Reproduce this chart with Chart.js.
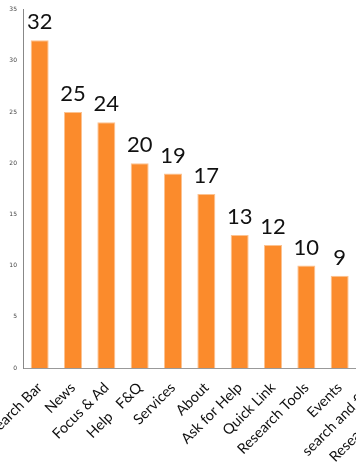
<!DOCTYPE html>
<html>
<head>
<meta charset="utf-8">
<script src="https://cdn.jsdelivr.net/npm/chart.js@4/dist/chart.umd.min.js"></script>
<style>
html,body{margin:0;padding:0;background:#fff;overflow:hidden;width:356px;height:475px;}
canvas{display:block;}
</style>
</head>
<body>
<canvas id="c" width="423" height="475"></canvas>
<script>
const categories = ["Search Bar","News","Focus & Ad","Help   F&Q","Services","About","Ask for Help","Quick Link","Research Tools","Events","search and find","Research Guides"];
const values = [32,25,24,20,19,17,13,12,10,9,null,null];
const yTicks = [0,5,10,15,20,25,30,35];

const valueLabels = {
  id:'valueLabels',
  afterDatasetsDraw(chart){
    const ctx = chart.ctx;
    const meta = chart.getDatasetMeta(0);
    ctx.save();
    ctx.font = '22px Lato';
    ctx.fillStyle = '#111';
    ctx.textAlign = 'center';
    ctx.textBaseline = 'bottom';
    meta.data.forEach((bar,i)=>{
      const v = values[i];
      if(v===null||v===undefined) return;
      ctx.fillText(String(v), bar.x, bar.y - 7);
    });
    ctx.restore();
  }
};

new Chart(document.getElementById('c'), {
  type:'bar',
  data:{
    labels:categories,
    datasets:[{
      data:values,
      backgroundColor:'#FB8B2C',
      borderColor:'#FCC290',
      borderWidth:1,
      barPercentage:0.54,
      categoryPercentage:1
    }]
  },
  options:{
    responsive:false,
    devicePixelRatio:1,
    animation:false,
    layout:{padding:{top:5,left:0,right:0,bottom:0}},
    plugins:{legend:{display:false},tooltip:{enabled:false},title:{display:false}},
    scales:{
      x:{
        grid:{display:false,drawTicks:false},
        border:{display:true,color:'#999',width:1},
        ticks:{
          autoSkip:false,
          minRotation:45,maxRotation:45,
          color:'#111',
          font:{family:'Lato',size:14.5},
          padding:11
        },
        afterFit(s){ s.paddingLeft=0; s.paddingRight=0; s.height=107; }
      },
      y:{
        min:0,max:35,
        grid:{display:false,drawTicks:false},
        border:{display:true,color:'#888',width:1},
        afterBuildTicks(s){ s.ticks = yTicks.map(v=>({value:v})); },
        ticks:{
          color:'#444',
          font:{family:'DejaVu Sans',size:6},
          padding:6
        },
        afterFit(s){ s.width=23; }
      }
    }
  },
  plugins:[valueLabels]
});
</script>
</body>
</html>
